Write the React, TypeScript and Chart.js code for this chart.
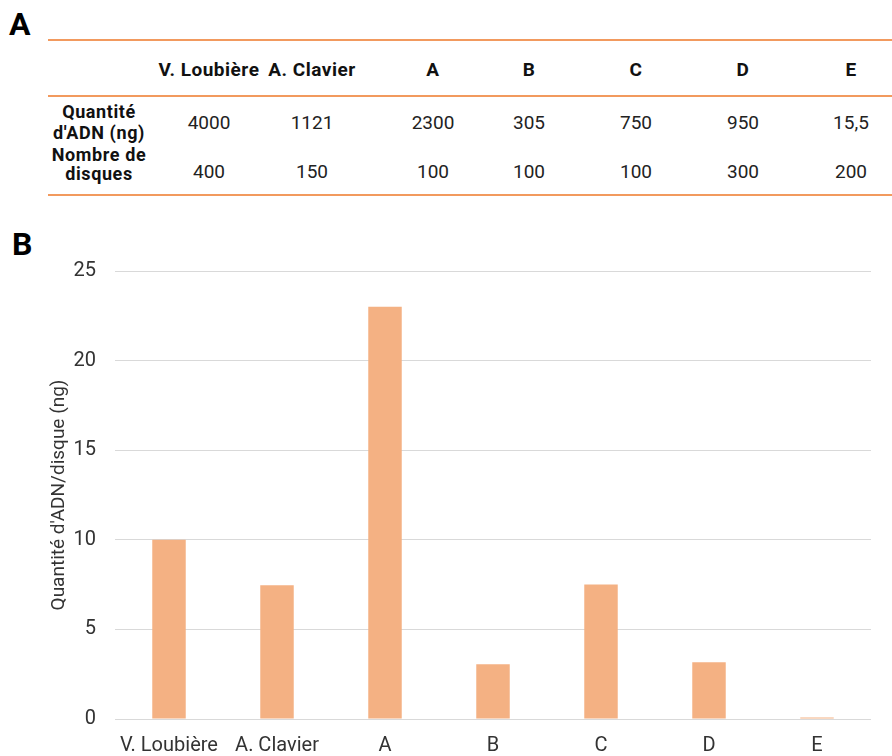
import React, { useEffect, useRef } from "react";
import { Chart, registerables } from "chart.js";

Chart.register(...registerables);

// ---- Data ----
const categories = ["V. Loubière", "A. Clavier", "A", "B", "C", "D", "E"];
const quantiteADN = ["4000", "1121", "2300", "305", "750", "950", "15,5"];
const nombreDisques = ["400", "150", "100", "100", "100", "300", "200"];
const adnParDisque = [10, 7.47, 23, 3.05, 7.5, 3.17, 0.08];
const yTicks = [0, 5, 10, 15, 20, 25];
const rowLabel1 = ["Quantité", "d'ADN (ng)"];
const rowLabel2 = ["Nombre de", "disques"];
const yTitle = "Quantité d'ADN/disque (ng)";

// ---- Layout (positions only) ----
const colX = [209, 312, 433, 529, 636, 743, 851];
const FONT = "Roboto, 'Noto Sans', sans-serif";
const ORANGE = "#F29A5E";

function Txt(props: { x: number; y: number; size: number; bold?: boolean; children: React.ReactNode; ls?: number }) {
  return (
    <div
      style={{
        position: "absolute",
        left: props.x,
        top: props.y,
        transform: "translate(-50%, -50%)",
        fontFamily: FONT,
        fontSize: props.size,
        fontWeight: props.bold ? 700 : 400,
        lineHeight: "1",
        whiteSpace: "nowrap",
        color: props.bold ? "#111" : "#222",
        letterSpacing: props.ls ? props.ls : 0,
      }}
    >
      {props.children}
    </div>
  );
}

function Rule(props: { y: number }) {
  return (
    <div
      style={{
        position: "absolute",
        left: 48,
        width: 844,
        top: props.y - 1,
        height: 2,
        background: ORANGE,
      }}
    />
  );
}

export default function App() {
  const canvasRef = useRef<HTMLCanvasElement | null>(null);

  useEffect(() => {
    const ctx = canvasRef.current;
    if (!ctx) return;
    const chart = new Chart(ctx, {
      type: "bar",
      data: {
        labels: categories,
        datasets: [
          {
            data: adnParDisque,
            backgroundColor: "#F4B183",
            borderWidth: 0,
            barPercentage: 0.31,
            categoryPercentage: 1,
          },
        ],
      },
      options: {
        responsive: false,
        animation: false,
        layout: { padding: { left: 0, right: 21, top: 27, bottom: 0 } },
        plugins: { legend: { display: false }, tooltip: { enabled: false } },
        scales: {
          x: {
            grid: { display: false, drawTicks: false },
            border: { display: false },
            ticks: {
              padding: 15,
              color: "#333",
              font: { family: FONT, size: 20 },
              maxRotation: 0,
              autoSkip: false,
            },
            afterFit: (s: any) => {
              s.height = 37;
            },
          },
          y: {
            min: 0,
            max: 25,
            afterBuildTicks: (s: any) => {
              s.ticks = yTicks.map((v) => ({ value: v }));
            },
            grid: { color: "#D9D9D9", lineWidth: 1, drawTicks: false },
            border: { display: false },
            ticks: {
              padding: 19,
              color: "#333",
              font: { family: FONT, size: 20 },
            },
            title: {
              display: true,
              text: yTitle,
              color: "#333",
              font: { family: FONT, size: 19, weight: "normal" },
              padding: { top: 48, bottom: 0 },
            },
            afterFit: (s: any) => {
              s.width = 115;
            },
          },
        },
      },
    });
    return () => chart.destroy();
  }, []);

  return (
    <div
      style={{
        position: "absolute",
        left: 0,
        top: 0,
        width: 892,
        height: 756,
        background: "#fff",
        overflow: "hidden",
      }}
    >
      <div
        style={{
          position: "absolute",
          left: 9,
          top: 6,
          fontFamily: FONT,
          fontWeight: 700,
          fontSize: 32,
          lineHeight: "36px",
          color: "#000",
        }}
      >
        A
      </div>
      <div
        style={{
          position: "absolute",
          left: 12,
          top: 226,
          fontFamily: FONT,
          fontWeight: 700,
          fontSize: 32,
          lineHeight: "36px",
          color: "#000",
        }}
      >
        B
      </div>

      <Rule y={40} />
      <Rule y={96} />
      <Rule y={195} />

      {categories.map((c, i) => (
        <Txt key={"h" + i} x={colX[i]} y={69} size={19} bold ls={0.5}>
          {c}
        </Txt>
      ))}

      <Txt x={99} y={112} size={18} bold ls={0.6}>
        {rowLabel1[0]}
      </Txt>
      <Txt x={99} y={133} size={18} bold ls={0.6}>
        {rowLabel1[1]}
      </Txt>
      <Txt x={99} y={155} size={18} bold ls={0.6}>
        {rowLabel2[0]}
      </Txt>
      <Txt x={99} y={174} size={18} bold ls={0.6}>
        {rowLabel2[1]}
      </Txt>

      {quantiteADN.map((v, i) => (
        <Txt key={"q" + i} x={colX[i]} y={122} size={19}>
          {v}
        </Txt>
      ))}
      {nombreDisques.map((v, i) => (
        <Txt key={"n" + i} x={colX[i]} y={171} size={19}>
          {v}
        </Txt>
      ))}

      <canvas
        ref={canvasRef}
        width={892}
        height={516}
        style={{ position: "absolute", left: 0, top: 240, width: 892, height: 516 }}
      />
    </div>
  );
}
